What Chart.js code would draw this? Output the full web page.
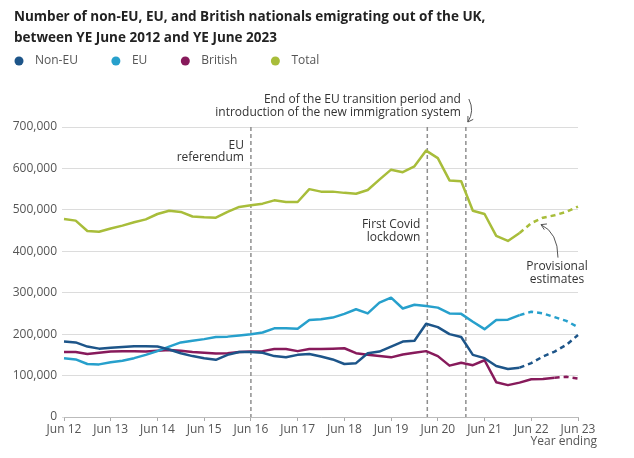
<!DOCTYPE html>
<html><head><meta charset="utf-8">
<script src="https://cdn.jsdelivr.net/npm/chart.js@4/dist/chart.umd.min.js"></script>
<style>html,body{margin:0;padding:0;background:#fff;}#wrap{width:634px;height:458px;}</style>
</head><body><div id="wrap"><canvas id="c" width="634" height="458"></canvas></div>
<script>
const quarterLabels = ['Jun 12','Sep 12','Dec 12','Mar 13','Jun 13','Sep 13','Dec 13','Mar 14','Jun 14','Sep 14','Dec 14','Mar 15','Jun 15','Sep 15','Dec 15','Mar 16','Jun 16','Sep 16','Dec 16','Mar 17','Jun 17','Sep 17','Dec 17','Mar 18','Jun 18','Sep 18','Dec 18','Mar 19','Jun 19','Sep 19','Dec 19','Mar 20','Jun 20','Sep 20','Dec 20','Mar 21','Jun 21','Sep 21','Dec 21','Mar 22','Jun 22','Sep 22','Dec 22','Mar 23','Jun 23'];
const nonEU = [182000,180000,170000,165000,167000,169000,171000,171000,170000,163000,154000,147000,142000,138000,150000,157000,157000,155000,147000,144000,150000,152000,146000,139000,128000,130000,154000,158000,170000,182000,184000,225000,217000,200000,193000,150000,142000,123000,116000,119000,130000,146000,158000,174000,198000];
const eu = [142000,139000,128000,127000,132000,136000,142000,150000,159000,170000,180000,184000,188000,193000,194000,197000,200000,204000,214000,214000,213000,234000,236000,240000,249000,260000,250000,276000,288000,262000,271000,268000,264000,250000,249000,230000,212000,234000,235000,246000,254000,250000,241000,232000,217000];
const british = [157000,157000,152000,155000,158000,159000,159000,158000,160000,162000,160000,157000,155000,153000,154000,157000,158000,159000,164000,164000,159000,164000,164000,165000,166000,154000,150000,147000,144000,151000,155000,159000,147000,124000,131000,125000,137000,84000,77000,83000,91000,92000,95000,97000,93000];
const total = [478000,474000,449000,447000,455000,462000,470000,477000,490000,498000,495000,484000,482000,481000,495000,507000,511000,515000,523000,519000,519000,550000,544000,544000,541000,539000,548000,573000,597000,591000,605000,643000,625000,571000,569000,498000,490000,437000,425000,444000,468000,481000,487000,495000,508000];
const seriesNames = ['Non-EU','EU','British','Total'];
const seriesColors = ['#1d5589','#27a0cc','#871a5b','#a8bd3a'];
const provisionalStart = [39,39,42,39];
const yTicks = [0,100000,200000,300000,400000,500000,600000,700000];
const eventPositions = [16, 31.1, 34.4];
const titleLines = ['Number of non-EU, EU, and British nationals emigrating out of the UK,','between YE June 2012 and YE June 2023'];

const FONT = '"Open Sans", "Noto Sans", sans-serif';
const seriesData = [nonEU, eu, british, total];

const overlay = {
  id: 'overlay',
  beforeDatasetsDraw(chart) {
    const {ctx, chartArea: a, scales: {x}} = chart;
    ctx.save();
    ctx.strokeStyle = '#8f8f8f'; ctx.lineWidth = 1.5; ctx.setLineDash([4,3]);
    eventPositions.forEach(p => {
      const px = x.getPixelForValue(p);
      ctx.beginPath(); ctx.moveTo(px, a.top); ctx.lineTo(px, a.bottom); ctx.stroke();
    });
    ctx.restore();
  },
  afterDraw(chart) {
    const {ctx, chartArea: a, scales: {x, y}} = chart;
    ctx.save();
    // title
    ctx.fillStyle = '#222'; ctx.textBaseline = 'middle'; ctx.textAlign = 'left';
    ctx.font = 'bold 13.5px ' + FONT;
    ctx.fillText(titleLines[0], 14, 17.5);
    ctx.fillText(titleLines[1], 14, 38.5);
    // legend
    ctx.font = '12px ' + FONT;
    let lx = 19;
    seriesNames.forEach((n, i) => {
      ctx.fillStyle = seriesColors[i];
      ctx.beginPath(); ctx.arc(lx, 61, 4.5, 0, Math.PI*2); ctx.fill();
      ctx.fillStyle = '#555';
      ctx.fillText(n, lx + 16, 61);
      lx = lx + 16 + ctx.measureText(n).width + 38;
    });
    // annotations
    ctx.fillStyle = '#333'; ctx.font = '12px ' + FONT; ctx.textAlign = 'right';
    const e0 = x.getPixelForValue(eventPositions[0]);
    ctx.fillText('EU', e0 - 7, a.top + 18.5);
    ctx.fillText('referendum', e0 - 7, a.top + 31);
    const e1 = x.getPixelForValue(eventPositions[1]);
    ctx.fillText('First Covid', e1 - 7, y.getPixelForValue(464000));
    ctx.fillText('lockdown', e1 - 7, y.getPixelForValue(464000) + 12.5);
    const e2 = x.getPixelForValue(eventPositions[2]);
    ctx.fillText('End of the EU transition period and', e2 - 5, a.top - 27.3);
    ctx.fillText('introduction of the new immigration system', e2 - 5, a.top - 14.8);
    ctx.textAlign = 'center';
    const pvx = x.getPixelForValue(42.2);
    const pvy = y.getPixelForValue(363000);
    ctx.fillText('Provisional', pvx, pvy);
    ctx.fillText('estimates', pvx, pvy + 12.5);
    // year ending
    ctx.fillStyle = '#555'; ctx.textAlign = 'right';
    ctx.fillText('Year ending', 597, a.bottom + 25);
    // arrows
    ctx.strokeStyle = '#555'; ctx.lineWidth = 1;
    const arrow = (sx, sy, cx, cy, tx, ty) => {
      ctx.beginPath(); ctx.moveTo(sx, sy); ctx.quadraticCurveTo(cx, cy, tx, ty); ctx.stroke();
      const ang = Math.atan2(ty - cy, tx - cx);
      const L = 6;
      ctx.beginPath();
      ctx.moveTo(tx - L*Math.cos(ang - 0.55), ty - L*Math.sin(ang - 0.55));
      ctx.lineTo(tx, ty);
      ctx.lineTo(tx - L*Math.cos(ang + 0.55), ty - L*Math.sin(ang + 0.55));
      ctx.stroke();
    };
    arrow(e2 + 3, a.top - 28, e2 + 9, a.top - 16, e2 + 2, a.top - 5);
    arrow(pvx + 1, pvy - 9, pvx + 1, pvy - 34, pvx - 16, pvy - 42);
    ctx.restore();
  }
};

new Chart(document.getElementById('c'), {
  type: 'line',
  data: {
    labels: quarterLabels,
    datasets: seriesData.map((d, i) => ({
      label: seriesNames[i],
      data: d,
      borderColor: seriesColors[i],
      backgroundColor: seriesColors[i],
      borderWidth: 2.5,
      pointRadius: 0,
      tension: 0,
      borderJoinStyle: 'round',
      fill: false,
      segment: { borderDash: ctx => ctx.p0DataIndex >= provisionalStart[i] ? [5,4] : undefined }
    }))
  },
  options: {
    responsive: false, animation: false, devicePixelRatio: 1,
    layout: { padding: { left: 0, right: 56, top: 127, bottom: 0 } },
    plugins: { legend: { display: false }, title: { display: false }, tooltip: { enabled: false } },
    scales: {
      x: {
        type: 'category', offset: false,
        grid: { drawOnChartArea: false, drawTicks: true, tickLength: 4, color: '#aaa' },
        border: { display: true, color: '#bbb' },
        ticks: {
          autoSkip: false, maxRotation: 0, padding: 1, color: '#555', font: { family: FONT, size: 12 },
          callback: (v, i) => quarterLabels[i].startsWith('Jun') ? quarterLabels[i] : null
        },
        afterFit: s => { s.height = 41; }
      },
      y: {
        min: 0, max: 700000,
        afterBuildTicks: s => { s.ticks = yTicks.map(v => ({ value: v })); },
        grid: { color: '#dcdcdc', tickLength: 2, drawTicks: true },
        border: { display: false },
        ticks: { padding: 5, color: '#555', font: { family: FONT, size: 12 },
          callback: v => v.toLocaleString('en-GB') },
        afterFit: s => { s.width = 64; }
      }
    }
  },
  plugins: [overlay]
});
</script>
</body></html>
